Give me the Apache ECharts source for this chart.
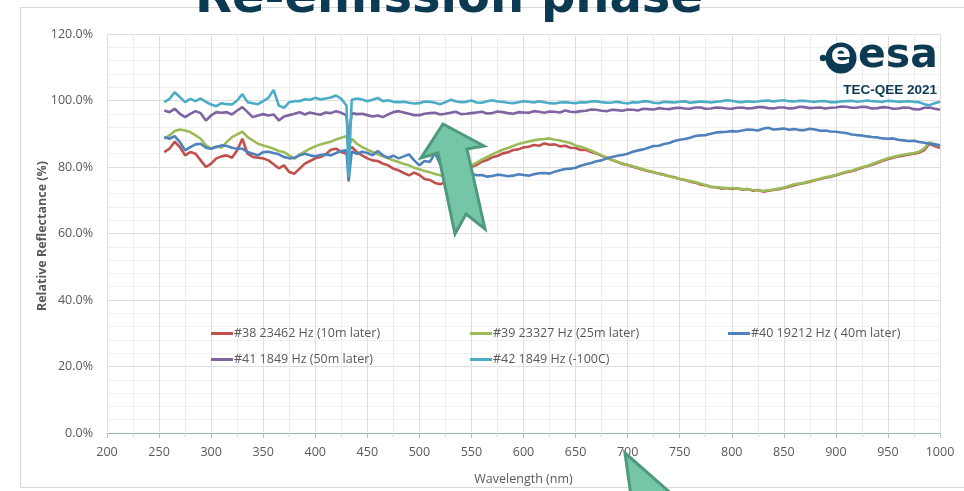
<!DOCTYPE html>
<html>
<head>
<meta charset="utf-8">
<script src="https://cdn.jsdelivr.net/npm/echarts@6/dist/echarts.min.js"></script>
<style>
html,body{margin:0;padding:0;background:#fff;}
#chart{width:964px;height:491px;}
</style>
</head>
<body>
<div id="chart"></div>
<script>
const wavelength = [255,260,265,270,275,280,285,290,295,300,305,310,315,320,325,330,335,340,345,350,355,360,365,370,375,380,385,390,395,400,405,410,415,420,425,430,
432,
435,440,445,450,455,460,465,470,475,480,
485,490,495,500,505,510,515,520,525,530,
535,540,545,550,555,560,565,570,575,580,
585,590,595,600,605,610,615,620,625,630,
635,640,645,650,655,660,665,670,675,680,
685,690,695,700,705,710,715,720,725,730,
735,740,745,750,755,760,765,770,775,780,
785,790,795,800,805,810,815,820,825,830,
835,840,845,850,855,860,865,870,875,880,
885,890,895,900,905,910,915,920,925,930,
935,940,945,950,955,960,965,970,975,980,
985,990,995,1000];

const s38 = [84.5,85.5,87.6,86,83.5,84.5,84,82,80,81,82.6,83.2,83.5,82.8,85,88.5,84,83,82.8,82.6,82,80.8,79.6,80.5,78.5,78,79.5,81,81.8,82.6,83,83.8,85.2,85.5,84.5,84,
85,
86,84.5,83.5,82.6,82,81.8,81,80.5,79.5,79,
78.2,77.5,78.3,77.6,76.4,76.1,75.2,74.8,75.6,76.4,
77.6,78.3,79.4,80.1,80.6,81.6,82.1,82.9,83.3,84.1,
84.4,85.1,85.3,85.9,86.1,86.6,86.4,87.1,86.7,86.8,
86.2,86.4,85.8,85.7,85.1,85.2,84.5,84.1,83.4,82.8,
82.1,81.6,80.9,80.6,80.1,79.6,79.2,78.7,78.4,78.0,
77.7,77.2,76.9,76.4,76.1,75.6,75.3,74.7,74.5,74.0,
73.9,73.5,73.7,73.4,73.6,73.2,73.4,72.9,73.1,72.6,
72.9,73.1,73.3,73.7,74.1,74.5,74.9,75.2,75.6,76.0,
76.4,76.8,77.1,77.5,78.0,78.4,78.7,79.2,79.8,80.2,
80.7,81.3,81.9,82.4,82.8,83.2,83.4,83.8,84.0,84.3,
85.1,87.0,86.3,85.7];

const s39 = [88.5,89.5,90.8,91.3,91,90.5,89.5,88.5,86.5,85.5,86.2,85.8,87.5,89,89.8,90.6,89,88,87,86.5,86,85.5,84.8,84.5,83.5,82.5,83.8,84.6,85.5,86.2,86.8,87.2,87.6,88.3,88.8,89.3,
86,
88.5,87,86,85.2,84.5,83.8,83.2,82.6,82,81.5,
80.9,80.5,79.8,79.3,78.8,78.4,77.9,77.5,77.1,77.2,
77.8,78.6,79.6,80.5,81.3,82.2,83.0,83.8,84.5,85.2,
85.7,86.3,86.9,87.3,87.7,88.0,88.3,88.4,88.6,88.2,
88.0,87.6,87.2,86.5,86.1,85.6,84.9,84.2,83.5,82.8,
82.2,81.5,81.1,80.6,80.2,79.8,79.3,78.9,78.4,78.0,
77.6,77.2,76.8,76.5,76.1,75.8,75.4,75.0,74.5,74.1,
73.9,73.8,73.6,73.7,73.5,73.4,73.3,73.1,73.0,72.8,
73.0,73.2,73.5,73.8,74.3,74.8,75.0,75.3,75.7,76.1,
76.5,76.9,77.2,77.6,78.1,78.6,78.9,79.4,79.9,80.3,
80.9,81.5,82.1,82.6,83.0,83.4,83.7,84.0,84.2,84.6,
85.6,87.5,86.8,86.2];

const s40 = [89,88.5,89.3,87.5,85,86,86.8,87,85.8,85.5,86,86.5,86.3,85.8,85.5,85.5,84.5,84,83.5,84.5,84.6,84.2,83.8,83,82.6,82.8,83.5,84,83.5,83.2,83.6,83.8,83.5,84.2,84.8,85,
75.7,
84.6,84,84.6,84.2,83.5,84.8,83.5,82.8,83.4,82.6,
83.2,83.8,82.0,80.5,81.8,81.5,84.2,80.8,80.2,79.6,
80.1,79.0,78.6,78.0,77.5,77.6,77.1,77.3,77.7,77.5,
77.2,77.4,77.8,77.6,77.4,77.8,78.1,78.2,78.0,78.6,
79.0,79.4,79.5,79.8,80.4,80.8,81.2,81.7,82.0,82.6,
83.0,83.4,83.6,84.0,84.6,85.0,85.3,85.8,86.3,86.4,
86.9,87.2,87.8,88.2,88.4,88.8,89.3,89.5,89.6,90.0,
90.4,90.5,90.6,90.8,90.7,91.0,91.3,91.2,91.0,91.5,
91.8,91.3,91.4,91.6,91.2,91.4,91.1,91.1,91.5,91.3,
90.9,91.0,90.7,90.6,90.4,90.2,89.8,89.6,89.5,89.2,
89.0,88.9,88.6,88.5,88.6,88.2,88.0,87.8,87.9,87.5,
87.3,87.0,86.8,86.5];

const s41 = [97,96.5,97.5,96,95,96,96.8,96.2,94,95.5,96.5,96.3,96.5,95.8,97,98,96.5,95,95.5,95.9,95.5,95.8,94,95.2,95.6,96,96.5,95.8,96.4,96,95.7,96.4,96.2,96.8,96.3,95.5,
88.5,
96.2,95.9,96,95.6,95.2,95.5,95,95.8,96.5,96.8,
96.4,96.0,95.6,95.6,96.0,96.2,96.3,95.8,96.0,96.3,
96.6,95.9,96.0,96.2,96.4,96.6,96.1,96.2,96.7,96.5,
96.2,96.0,96.5,96.4,96.3,96.8,96.6,96.3,96.7,96.6,
96.4,97.0,96.6,96.5,96.8,96.9,97.3,97.2,96.9,96.8,
97.2,97.1,96.9,97.3,97.2,97.0,97.5,97.4,97.3,97.7,
97.5,97.4,97.7,97.8,97.6,97.5,97.9,97.9,97.5,97.6,
97.9,97.8,97.6,97.5,97.8,97.9,97.6,97.7,98.0,98.0,
97.7,97.6,97.9,97.9,97.6,97.7,98.1,98.0,97.7,97.8,
97.9,97.6,97.8,97.9,98.2,98.1,97.8,97.8,98.1,98.0,
97.6,97.7,98.0,97.9,97.5,97.6,97.9,97.8,97.4,97.3,
97.8,97.9,97.5,97.2];

const s42 = [99.5,100.5,102.5,101,99.5,100.5,99.8,100.6,99.6,98.8,98.3,99.2,98.9,98.8,100,101.9,99.5,99.2,98.9,99.8,100.8,103.2,98.5,97.8,99.5,99.8,99.8,100.4,100.2,100.8,100.3,100.6,100.9,101.5,100.5,98.5,
77,
100.2,100.6,100.3,99.8,100.2,100.8,99.8,100.1,99.6,99.5,
99.6,99.3,99.1,99.2,99.7,99.6,99.3,98.9,99.5,100.2,
99.8,99.5,99.6,100.0,99.4,99.3,99.8,100.1,99.7,99.6,
99.3,99.2,99.5,99.8,99.6,99.4,99.8,99.5,99.2,99.1,
99.4,99.5,99.3,99.2,99.5,99.4,99.7,99.8,99.5,99.3,
99.4,99.6,99.3,99.1,99.5,99.4,99.8,99.7,99.3,99.2,
99.6,99.5,99.4,99.6,99.8,99.3,99.5,99.7,99.6,99.4,
99.6,99.8,100.1,99.9,99.6,99.5,99.8,99.6,99.7,99.9,
100.0,99.7,99.9,100.1,99.8,99.7,99.9,99.9,99.7,99.6,
99.8,99.8,99.5,99.5,99.7,99.8,99.9,99.6,99.8,100.0,
99.8,99.7,99.6,99.9,99.8,99.6,99.7,99.8,99.6,99.5,
98.9,98.6,99.2,99.6];

const seriesNames = ['#38 23462 Hz (10m later)','#39 23327 Hz (25m later)','#40 19212 Hz ( 40m later)','#41 1849 Hz (50m later)','#42 1849 Hz (-100C)'];
const seriesValues = [s38, s39, s40, s41, s42];
const seriesColors = ['#c0504d','#9bbb59','#4f81bd','#8064a2','#4bacc6'];
const xTicks = {min:200, max:1000, interval:50};
const yTicks = {min:0, max:120, interval:20};
const yAxisTitle = 'Relative Reflectance (%)';

const chart = echarts.init(document.getElementById('chart'), null, {renderer:'canvas'});
const FONT = "'Liberation Sans Narrow','Open Sans',sans-serif";
const legendPos = [[211,327],[470,327],[728,327],[211,353],[470,353]];

const option = {
  animation:false,
  backgroundColor:'#fff',
  grid:{left:107, right:24, top:34, bottom:53},
  xAxis:{
    type:'value', min:xTicks.min, max:xTicks.max, interval:xTicks.interval,
    name:'Wavelength (nm)', nameLocation:'middle', nameGap:40,
    nameTextStyle:{color:'#595959', fontSize:12.5, fontFamily:FONT},
    axisLine:{show:true, lineStyle:{color:'#9bb0bd', width:1}},
    axisTick:{show:true, length:5, lineStyle:{color:'#b5c3cc'}},
    minorTick:{show:true, splitNumber:2, length:4, lineStyle:{color:'#d0d8dd'}},
    axisLabel:{color:'#595959', fontSize:12.5, fontFamily:FONT, margin:13, formatter:v=>String(v)},
    splitLine:{show:true, lineStyle:{color:'#dedede'}},
    minorSplitLine:{show:true, lineStyle:{color:'#ececec'}}
  },
  yAxis:{
    type:'value', min:yTicks.min, max:yTicks.max, interval:yTicks.interval,
    axisLine:{show:false}, axisTick:{show:false},
    minorTick:{show:false, splitNumber:5},
    axisLabel:{color:'#595959', fontSize:12.5, fontFamily:FONT, margin:14, formatter:v=>v.toFixed(1)+'%'},
    splitLine:{show:true, lineStyle:{color:'#dedede'}},
    minorSplitLine:{show:true, lineStyle:{color:'#f1f1f1'}}
  },
  legend: seriesNames.map((n,i)=>({
    data:[n], left:legendPos[i][0], top:legendPos[i][1], padding:0,
    icon:'rect', itemWidth:22, itemHeight:3,
    textStyle:{color:'#595959', fontSize:12.5, fontFamily:FONT, padding:[0,0,0,-4]}
  })),
  series: seriesNames.map((n,i)=>({
    name:n, type:'line', showSymbol:false, symbol:'none',
    color:seriesColors[i],
    lineStyle:{width:2.6, color:seriesColors[i]},
    data: wavelength.map((w,j)=>[w, seriesValues[i][j]])
  })),
  graphic:[
    {type:'rect', z:-10, shape:{x:20.5, y:7.5, width:960, height:480}, style:{fill:'none', stroke:'#d9d9d9', lineWidth:1}},
    {type:'text', z:100, x:42, y:236, rotation:Math.PI/2, style:{text:yAxisTitle, align:'center', verticalAlign:'middle', fill:'#595959', font:"bold 12.5px 'Liberation Sans Narrow','Open Sans',sans-serif"}},
    {type:'text', z:100, left:195, top:-24, style:{text:'Re-emission phase', fill:'#0c3a52', font:"bold 48px 'DejaVu Sans',sans-serif"}},
    {type:'circle', z:100, shape:{cx:823, cy:58, r:3.2}, style:{fill:'#0b3a52'}},
    {type:'circle', z:100, shape:{cx:841, cy:58, r:15.5}, style:{fill:'#0b3a52'}},
    {type:'text', z:101, x:841, y:56, style:{text:'e', align:'center', verticalAlign:'middle', fill:'#fff', font:"bold 30px 'DejaVu Sans',sans-serif"}},
    {type:'text', z:100, left:858, top:36, style:{text:'esa', fill:'#0b3a52', font:"bold 41px 'DejaVu Sans',sans-serif"}},
    {type:'text', z:100, right:27, top:83, style:{text:'TEC-QEE 2021', fill:'#0b3a52', font:"bold 13.5px 'Liberation Sans',sans-serif"}},
    {type:'polygon', z:100, shape:{points:[[443,124],[484,146],[467,149],[485,229],[466,214],[455,234],[438,153],[421,158]]}, style:{fill:'#74c6a7', stroke:'#4f9a7f', lineWidth:3, lineJoin:'miter'}},
    {type:'polygon', z:100, shape:{points:[[625,453],[674,496],[631,496]]}, style:{fill:'#74c6a7', stroke:'#4f9a7f', lineWidth:3}}
  ]
};
chart.setOption(option);
</script>
</body>
</html>
